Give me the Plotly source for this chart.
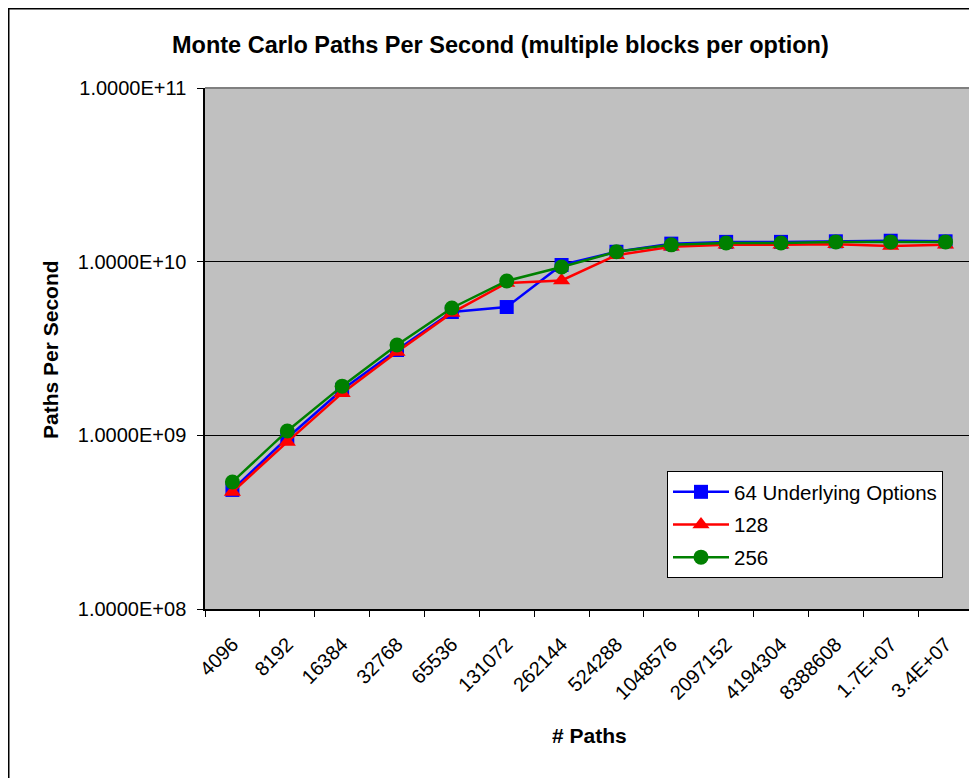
import plotly.graph_objects as go

categories = ["4096", "8192", "16384", "32768", "65536", "131072", "262144",
              "524288", "1048576", "2097152", "4194304", "8388608", "1.7E+07", "3.4E+07"]

series_names = ["64 Underlying Options", "128", "256"]
opt64 = [4.85e8, 9.66e8, 1.83e9, 3.10e9, 5.13e9, 5.48e9, 9.57e9,
         1.14e10, 1.27e10, 1.30e10, 1.30e10, 1.31e10, 1.32e10, 1.31e10]
opt128 = [4.72e8, 9.16e8, 1.75e9, 3.02e9, 5.07e9, 7.54e9, 7.80e9,
          1.09e10, 1.22e10, 1.25e10, 1.25e10, 1.26e10, 1.23e10, 1.25e10]
opt256 = [5.39e8, 1.06e9, 1.92e9, 3.31e9, 5.41e9, 7.74e9, 9.32e9,
          1.14e10, 1.25e10, 1.28e10, 1.28e10, 1.30e10, 1.30e10, 1.30e10]

y_tickvals = [1e8, 1e9, 1e10, 1e11]
y_ticktext = ["1.0000E+08", "1.0000E+09", "1.0000E+10", "1.0000E+11"]

FONT = "Arial, Liberation Sans, sans-serif"

fig = go.Figure()
styles = [
    dict(color="#0000FF", symbol="square", size=14),
    dict(color="#FF0000", symbol="triangle-up", size=15),
    dict(color="#008000", symbol="circle", size=15),
]
for i, (name, vals) in enumerate(zip(series_names, [opt64, opt128, opt256])):
    st = styles[i]
    fig.add_trace(go.Scatter(
        x=categories, y=vals, name=name, mode="lines+markers",
        line=dict(color=st["color"], width=2.5),
        marker=dict(color=st["color"], symbol=st["symbol"], size=st["size"]),
        legendgroup=f"g{i}",
    ))

# page body has an 8px margin: work in screen coordinates and shift
OFF = 8
W, H = 977 - OFF, 778 - OFF
L, R, T, B = 205 - OFF, 973 - OFF, 88 - OFF, 609 - OFF
pw, ph = R - L, B - T

def px_x(x):
    return (x - OFF - L) / pw

def px_y(y):
    return (B - (y - OFF)) / ph

fig.update_layout(
    width=W, height=H,
    margin=dict(l=L, r=W - R, t=T, b=H - B, pad=0),
    paper_bgcolor="white",
    plot_bgcolor="#C0C0C0",
    font=dict(family=FONT, size=20, color="black"),
    showlegend=True,
    legend=dict(
        x=px_x(667), y=px_y(471), xanchor="left", yanchor="top",
        bgcolor="white", bordercolor="black", borderwidth=1,
        font=dict(family=FONT, size=20.5, color="black"),
        tracegroupgap=3, itemwidth=56,
    ),
    xaxis=dict(
        type="category", range=[-0.5, len(categories) - 0.5],
        tickangle=-45, tickson="boundaries", ticks="outside", ticklen=6,
        tickcolor="black", showline=True, linecolor="black", linewidth=1.5,
        showgrid=False, tickfont=dict(family=FONT, size=20),
        ticklabelstandoff=14,
    ),
    yaxis=dict(
        type="log", range=[8, 11], tickvals=y_tickvals, ticktext=y_ticktext,
        ticks="outside", ticklen=6, tickcolor="black",
        showline=True, linecolor="black", linewidth=1.5,
        showgrid=True, gridcolor="black", gridwidth=1,
        tickfont=dict(family=FONT, size=20), ticklabelstandoff=7,
    ),
    shapes=[
        # plot area top/right border
        dict(type="line", xref="paper", yref="paper", x0=0, x1=1, y0=1, y1=1,
             line=dict(color="#808080", width=2)),
        dict(type="line", xref="paper", yref="paper", x0=1, x1=1, y0=0, y1=1,
             line=dict(color="#808080", width=2)),
        # outer chart frame
        dict(type="rect", xref="paper", yref="paper",
             x0=px_x(8.75), x1=px_x(1000), y0=px_y(800), y1=px_y(8.75),
             line=dict(color="black", width=1.5), fillcolor="rgba(0,0,0,0)"),
    ],
    annotations=[
        dict(text="<b>Monte Carlo Paths Per Second (multiple blocks per option)</b>",
             xref="paper", yref="paper", x=px_x(500), y=px_y(45),
             xanchor="center", yanchor="middle", showarrow=False,
             font=dict(family=FONT, size=23.5, color="black")),
        dict(text="<b># Paths</b>", xref="paper", yref="paper",
             x=px_x(589), y=px_y(736), xanchor="center", yanchor="middle",
             showarrow=False, font=dict(family=FONT, size=21, color="black")),
        dict(text="<b>Paths Per Second</b>", xref="paper", yref="paper",
             x=px_x(50), y=px_y(350), xanchor="center", yanchor="middle",
             textangle=-90, showarrow=False,
             font=dict(family=FONT, size=21, color="black")),
    ],
)

fig.write_html("out.html")
